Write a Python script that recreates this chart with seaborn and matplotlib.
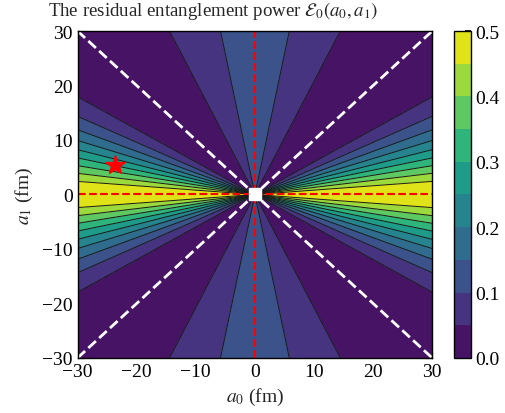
import numpy as np
import matplotlib
matplotlib.use("Agg")
import matplotlib.pyplot as plt
from matplotlib.ticker import MultipleLocator
import seaborn as sns

# plot window (fm)
a0_range = [-30, 30]
a1_range = [-30, 30]
grid_n = 801

# contour levels / ticks
levels = np.linspace(0, 0.5, 11)
cbar_ticks = [0.0, 0.1, 0.2, 0.3, 0.4, 0.5]
axis_ticks = [-30, -20, -10, 0, 10, 20, 30]

# special points: origin and the np scattering lengths (singlet, triplet)
origin = [0, 0]
np_point = [-23.7, 5.4]


def residual_power(a0, a1):
    # linear entropy of T = a0*P0 + a1*P1 averaged over product states
    A0 = a0**2
    A1 = a1**2
    with np.errstate(divide='ignore', invalid='ignore'):
        first = (A0 + 3*A1) / (A0 + A1)
        second = 4*A1*np.log1p((A0 - A1)/(2*A1)) / (A0 - A1)
    second = np.where(A1 == 0, 0.0, second)
    second = np.where(np.isclose(A0, A1), 2.0, second)
    return 0.5*(first - second)


a0 = np.linspace(a0_range[0], a0_range[1], grid_n)
a1 = np.linspace(a1_range[0], a1_range[1], grid_n)
A0g, A1g = np.meshgrid(a0, a1)
E0 = residual_power(A0g, A1g)

sns.set_theme(style="ticks")
plt.rcParams['font.family'] = 'serif'
plt.rcParams['font.serif'] = ['Liberation Serif', 'DejaVu Serif']
plt.rcParams['mathtext.fontset'] = 'stix'
plt.rcParams['axes.unicode_minus'] = True

fig = plt.figure(figsize=(5.05, 4.14), dpi=100)
ax = fig.add_axes([0.1535, 0.1329, 0.7025, 0.7898])
cax = fig.add_axes([0.899, 0.1329, 0.033, 0.7898])

cmap = sns.color_palette("viridis", as_cmap=True)
cf = ax.contourf(A0g, A1g, E0, levels=levels, cmap=cmap, vmin=0, vmax=0.5)
ax.contour(A0g, A1g, E0, levels=levels[1:-1], colors='k', linewidths=0.7)

# diagonals |a0| = |a1|
ax.plot(a0_range, a1_range, ls='--', color='white', lw=2)
ax.plot(a0_range, a1_range[::-1], ls='--', color='white', lw=2)
ax.axvline(origin[0], color='red', ls='--', lw=1.5)
ax.axhline(origin[1], color='red', ls='--', lw=1.5)
ax.plot(origin[0], origin[1], marker='s', color='white', ms=8, mec='white')
ax.plot(np_point[0], np_point[1], marker='*', color='red', ms=15, mec='red')

ax.set_xlim(a0_range)
ax.set_ylim(a1_range)
ax.set_xticks(axis_ticks)
ax.set_yticks(axis_ticks)
ax.xaxis.set_minor_locator(MultipleLocator(2))
ax.yaxis.set_minor_locator(MultipleLocator(2))
ax.tick_params(which='both', direction='in', top=True, right=True,
               labelsize=14, colors='black')
ax.tick_params(which='major', length=5, width=0.8)
ax.tick_params(which='minor', length=2.5, width=0.6)
for sp in ax.spines.values():
    sp.set_linewidth(1.0)
    sp.set_color('black')

ax.set_xlabel('$a_0$ (fm)', fontsize=14, labelpad=4)
ax.set_ylabel('$a_1$ (fm)', fontsize=14, labelpad=5)

fig.text(48/505, 1 - 16/414, r'The residual entanglement power $\mathcal{E}_0(a_0, a_1)$',
         fontsize=13.6, ha='left', va='baseline')

cbar = fig.colorbar(cf, cax=cax, ticks=cbar_ticks)
cbar.ax.set_yticklabels([f"{t:.1f}" for t in cbar_ticks])
cbar.ax.tick_params(direction='in', labelsize=14, length=4, colors='black')
cbar.outline.set_linewidth(1.0)
cbar.outline.set_edgecolor('black')

fig.savefig('out.png', dpi=100)
